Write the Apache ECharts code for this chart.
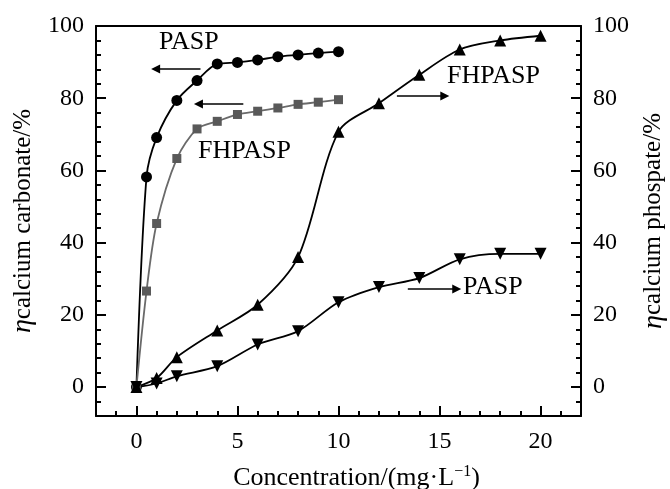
<!DOCTYPE html>
<html>
<head>
<meta charset="utf-8">
<script src="https://cdn.jsdelivr.net/npm/echarts@6/dist/echarts.min.js"></script>
<style>
  html, body { margin: 0; padding: 0; background: #fff; }
  #chart { width: 670px; height: 489px; }
</style>
</head>
<body>
<div id="chart"></div>
<script>
// concentration (mg/L) for each series
const pointsX = [0, 0.5, 1, 2, 3, 4, 5, 6, 7, 8, 9, 10];
const phosX = [0, 1, 2, 4, 6, 8, 10, 12, 14, 16, 18, 20];

// calcium carbonate inhibition (left axis)
const carbonatePASP = [0, 58.2, 69.1, 79.4, 84.9, 89.5, 89.9, 90.6, 91.5, 92.0, 92.5, 92.9];
const carbonateFHPASP = [0, 26.6, 45.3, 63.3, 71.5, 73.6, 75.5, 76.4, 77.3, 78.3, 78.9, 79.6];

// calcium phosphate inhibition (right axis)
const phosphateFHPASP = [0, 2.5, 8.3, 15.7, 22.8, 36.0, 70.7, 78.6, 86.5, 93.5, 96.0, 97.3];
const phosphatePASP = [0, 1.0, 3.0, 5.8, 11.8, 15.5, 23.5, 27.7, 30.2, 35.4, 36.9, 36.9];

// arrows next to the curve labels: [x0, y0, x1, y1] in data units
const arrowPASPLeft = [3.17, 88.1, 0.95, 88.1];
const arrowFHPASPLeft = [5.29, 78.4, 3.07, 78.4];
const arrowFHPASPRight = [12.89, 80.6, 15.26, 80.6];
const arrowPASPRight = [13.43, 27.2, 15.85, 27.2];

const font = 'Liberation Serif';
const zip = (xs, ys) => xs.map((x, i) => [x, ys[i]]);

const arrow = (a) => ({
  silent: true,
  symbol: ['none', 'triangle'],
  symbolSize: 9,
  label: { show: false },
  lineStyle: { color: '#000', width: 1.5, type: 'solid' },
  emphasis: { disabled: true },
  data: [[{ coord: [a[0], a[1]] }, { coord: [a[2], a[3]] }]],
});

const yName = (sub) => ({
  name: '{e|η}{t|' + sub + '/%}',
  nameLocation: 'middle',
  nameRotate: 90,
  nameGap: 58,
  nameTextStyle: {
    rich: {
      e: { fontFamily: font, fontStyle: 'italic', fontSize: 28, color: '#000' },
      t: { fontFamily: font, fontSize: 25, color: '#000' },
    },
  },
});

const majorY = (position) => ({
  type: 'value',
  position: position,
  min: -8,
  max: 100,
  minInterval: 20,
  maxInterval: 20,
  axisLine: { show: true, onZero: false, lineStyle: { color: '#000', width: 2 } },
  axisTick: { show: true, inside: true, length: 10, lineStyle: { color: '#000', width: 2 } },
  axisLabel: {
    fontFamily: font,
    fontSize: 24,
    color: '#000',
    margin: 12,
    formatter: (v) => (v % 20 === 0 ? String(v) : ''),
  },
  splitLine: { show: false },
});

const minorY = (position) => ({
  type: 'value',
  position: position,
  min: -8,
  max: 100,
  interval: 4,
  axisLine: { show: false, onZero: false },
  axisTick: { show: true, inside: true, length: 5, lineStyle: { color: '#000', width: 2 } },
  axisLabel: { show: false },
  splitLine: { show: false },
});

const option = {
  animation: false,
  backgroundColor: '#fff',
  grid: { left: 96, right: 89, top: 26, bottom: 73, containLabel: false, outerBoundsMode: 'none' },
  xAxis: [
    {
      type: 'value',
      min: -2,
      max: 22,
      minInterval: 5,
      maxInterval: 5,
      position: 'bottom',
      name: 'Concentration/(mg·L{s|−1})',
      nameLocation: 'middle',
      nameGap: 48,
      nameTextStyle: {
        fontFamily: font,
        fontSize: 26,
        color: '#000',
        padding: [0, 0, 0, 36],
        rich: {
          s: { fontFamily: font, fontSize: 16, color: '#000', padding: [0, 0, 12, 0] },
        },
      },
      axisLine: { show: true, onZero: false, lineStyle: { color: '#000', width: 2 } },
      axisTick: { show: true, inside: true, length: 10, lineStyle: { color: '#000', width: 2 } },
      axisLabel: {
        fontFamily: font,
        fontSize: 24,
        color: '#000',
        margin: 14,
        formatter: (v) => (v % 5 === 0 ? String(v) : ''),
      },
      splitLine: { show: false },
    },
    {
      type: 'value',
      min: -2,
      max: 22,
      interval: 1,
      position: 'bottom',
      axisLine: { show: false, onZero: false },
      axisTick: { show: true, inside: true, length: 5, lineStyle: { color: '#000', width: 2 } },
      axisLabel: { show: false },
      splitLine: { show: false },
    },
    {
      type: 'value',
      min: -2,
      max: 22,
      position: 'top',
      axisLine: { show: true, onZero: false, lineStyle: { color: '#000', width: 2 } },
      axisTick: { show: false },
      axisLabel: { show: false },
      splitLine: { show: false },
    },
  ],
  yAxis: [
    Object.assign(majorY('left'), yName('calcium carbonate')),
    minorY('left'),
    Object.assign(majorY('right'), yName('calcium phospate')),
    minorY('right'),
  ],
  graphic: [
    { type: 'text', left: 159, top: 29, style: { text: 'PASP', font: '26px "Liberation Serif"', fill: '#000' } },
    { type: 'text', left: 198, top: 138, style: { text: 'FHPASP', font: '26px "Liberation Serif"', fill: '#000' } },
    { type: 'text', left: 447, top: 63, style: { text: 'FHPASP', font: '26px "Liberation Serif"', fill: '#000' } },
    { type: 'text', left: 463, top: 274, style: { text: 'PASP', font: '26px "Liberation Serif"', fill: '#000' } },
  ],
  series: [
    {
      name: 'PASP carbonate',
      type: 'line',
      xAxisIndex: 0,
      yAxisIndex: 0,
      smooth: 0.3,
      data: zip(pointsX, carbonatePASP),
      symbol: 'circle',
      symbolSize: 11,
      itemStyle: { color: '#000' },
      lineStyle: { color: '#000', width: 1.8 },
      markLine: arrow(arrowPASPLeft),
    },
    {
      name: 'FHPASP carbonate',
      type: 'line',
      xAxisIndex: 0,
      yAxisIndex: 0,
      smooth: 0.3,
      data: zip(pointsX, carbonateFHPASP),
      symbol: 'rect',
      symbolSize: 9,
      itemStyle: { color: '#595959' },
      lineStyle: { color: '#6a6a6a', width: 1.8 },
      markLine: arrow(arrowFHPASPLeft),
    },
    {
      name: 'FHPASP phosphate',
      type: 'line',
      xAxisIndex: 0,
      yAxisIndex: 2,
      smooth: 0.3,
      data: zip(phosX, phosphateFHPASP),
      symbol: 'triangle',
      symbolSize: 12,
      itemStyle: { color: '#000' },
      lineStyle: { color: '#000', width: 1.8 },
      markLine: arrow(arrowFHPASPRight),
    },
    {
      name: 'PASP phosphate',
      type: 'line',
      xAxisIndex: 0,
      yAxisIndex: 2,
      smooth: 0.3,
      data: zip(phosX, phosphatePASP),
      symbol: 'triangle',
      symbolRotate: 180,
      symbolSize: 12,
      itemStyle: { color: '#000' },
      lineStyle: { color: '#000', width: 1.8 },
      markLine: arrow(arrowPASPRight),
    },
  ],
};

const chart = echarts.init(document.getElementById('chart'), null, { renderer: 'canvas' });
chart.setOption(option);
</script>
</body>
</html>
